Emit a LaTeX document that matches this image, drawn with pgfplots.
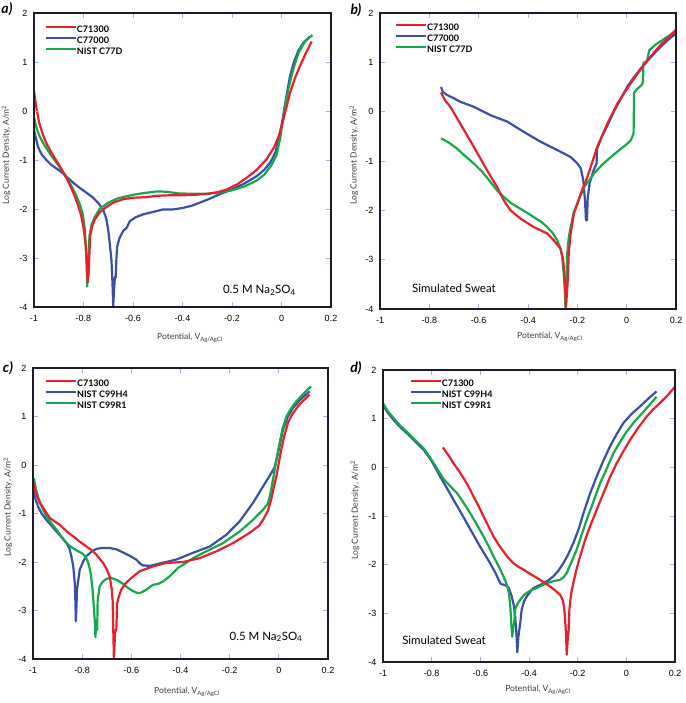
\documentclass[border=0pt]{standalone}
\usepackage{fontspec}
\setmainfont{Liberation Sans}
\newfontfamily\lato{Lato}
\usepackage{pgfplots}
\pgfplotsset{compat=1.18}
\definecolor{cred}{RGB}{232,32,42}
\definecolor{cblue}{RGB}{58,80,168}
\definecolor{cgreen}{RGB}{20,169,75}
\definecolor{frame}{RGB}{28,28,40}
\definecolor{tickc}{RGB}{165,178,225}
\definecolor{labc}{RGB}{60,60,60}
\pgfplotsset{
 panel/.style={
  scale only axis, axis on top,
  xmin=-1,xmax=0.2,ymin=-4,ymax=2,
  xtick={-1,-0.8,-0.6,-0.4,-0.2,0,0.2},
  xticklabels={-1,-0.8,-0.6,-0.4,-0.2,0,0.2},
  ytick={-4,-3,-2,-1,0,1,2},
  yticklabels={-4,-3,-2,-1,0,1,2},
  tick align=inside, major tick length=5pt,
  tick style={tickc, line width=0.9pt},
  axis line style={frame, line width=2.6pt, line cap=rect},
  ticklabel style={font=\fontsize{9}{10}\selectfont, text=black},
  xticklabel style={yshift=-5pt},
  yticklabel style={xshift=-3pt},
  label style={font=\lato\fontsize{8.5}{9}\selectfont, text=labc},
  xlabel={Potential, V\textsubscript{Ag/AgCl}},
  ylabel={Log Current Density, A/m\textsuperscript{2}},
  legend style={draw=none, fill=none, inner sep=0pt, outer sep=0pt, row sep=2pt,
    font=\lato\bfseries\fontsize{9}{9}\selectfont,
    nodes={inner sep=0pt, text height=7pt, text depth=2pt},
    anchor=north west,
    /tikz/every even column/.append style={column sep=5pt}},
  legend cell align=left,
  legend image code/.code={\draw[##1, line width=2pt] (0pt,3pt) -- (30pt,3pt);},
  every axis plot/.append style={line width=2.2pt, line join=round},
 },
}
\tikzset{ann/.style={font=\lato\fontsize{11.5}{12}\selectfont, text=black},
  plab/.style={font=\lato\bfseries\itshape\fontsize{14}{14}\selectfont}}
\begin{document}
\begin{tikzpicture}
\path[use as bounding box] (0,0) rectangle (685pt,703pt);
\node[plab] at (7pt,694pt) {a)};
\node[plab] at (356pt,693pt) {b)};
\node[plab] at (8pt,335pt) {c)};
\node[plab] at (356pt,335pt) {d)};

% ---------------- a ----------------
\begin{axis}[panel, at={(34pt,396pt)}, anchor=south west, width=297pt, height=294pt,
  xlabel style={at={(axis description cs:0.525,-0.105)}, anchor=center},
  ylabel style={at={(axis description cs:-0.094,0.517)}, anchor=center},
  legend style={at={(axis description cs:0.037,0.956)}}]
\addlegendimage{cred}\addlegendentry{C71300}
\addlegendimage{cblue}\addlegendentry{C77000}
\addlegendimage{cgreen}\addlegendentry{NIST C77D}
\addplot[cblue, forget plot] coordinates {(-1,-0.39) (-0.99,-0.6) (-0.984,-0.73) (-0.97,-0.88) (-0.95,-1.0) (-0.93,-1.1) (-0.91,-1.17) (-0.888,-1.25) (-0.869,-1.34) (-0.84,-1.47) (-0.815,-1.57) (-0.79,-1.66) (-0.761,-1.77) (-0.74,-1.88) (-0.72,-2.02) (-0.708,-2.2) (-0.7,-2.43) (-0.693,-2.75) (-0.687,-3.05) (-0.683,-3.5) (-0.68,-3.98) (-0.676,-3.6) (-0.673,-3.39) (-0.67,-3.4) (-0.667,-3.0) (-0.664,-2.77) (-0.655,-2.6) (-0.64,-2.45) (-0.625,-2.38) (-0.613,-2.25) (-0.59,-2.17) (-0.56,-2.11) (-0.518,-2.06) (-0.48,-2.01) (-0.44,-2.01) (-0.4,-1.98) (-0.36,-1.93) (-0.33,-1.87) (-0.29,-1.79) (-0.26,-1.72) (-0.2,-1.6) (-0.15,-1.48) (-0.1,-1.33) (-0.07,-1.2) (-0.045,-1.05) (-0.025,-0.85) (-0.01,-0.55) (0.0,-0.3) (0.01,0.0) (0.02,0.3) (0.034,0.7) (0.05,1.0) (0.068,1.23) (0.09,1.4) (0.115,1.52)};
\addplot[cgreen, forget plot] coordinates {(-1,-0.12) (-0.99,-0.35) (-0.977,-0.52) (-0.96,-0.68) (-0.937,-0.86) (-0.91,-1.05) (-0.888,-1.2) (-0.87,-1.34) (-0.85,-1.52) (-0.83,-1.72) (-0.815,-1.9) (-0.803,-2.1) (-0.795,-2.4) (-0.79,-2.8) (-0.787,-3.2) (-0.785,-3.58) (-0.782,-3.3) (-0.778,-2.9) (-0.776,-2.55) (-0.768,-2.33) (-0.755,-2.17) (-0.735,-2.0) (-0.7,-1.87) (-0.66,-1.78) (-0.6,-1.71) (-0.55,-1.67) (-0.5,-1.64) (-0.46,-1.65) (-0.42,-1.68) (-0.36,-1.69) (-0.3,-1.69) (-0.25,-1.66) (-0.2,-1.62) (-0.15,-1.54) (-0.1,-1.42) (-0.07,-1.3) (-0.04,-1.1) (-0.02,-0.9) (-0.005,-0.55) (0.005,-0.2) (0.015,0.1) (0.03,0.5) (0.05,0.9) (0.07,1.2) (0.095,1.42) (0.125,1.55)};
\addplot[cred, forget plot] coordinates {(-1,0.40) (-0.99,0.05) (-0.98,-0.22) (-0.965,-0.47) (-0.95,-0.66) (-0.925,-0.89) (-0.9,-1.09) (-0.888,-1.2) (-0.87,-1.36) (-0.856,-1.5) (-0.84,-1.68) (-0.825,-1.88) (-0.81,-2.12) (-0.8,-2.38) (-0.793,-2.65) (-0.788,-2.95) (-0.785,-3.3) (-0.783,-3.5) (-0.779,-3.3) (-0.776,-2.9) (-0.773,-2.55) (-0.765,-2.35) (-0.755,-2.22) (-0.735,-2.07) (-0.71,-1.97) (-0.68,-1.87) (-0.64,-1.8) (-0.6,-1.77) (-0.55,-1.76) (-0.5,-1.73) (-0.45,-1.72) (-0.4,-1.72) (-0.35,-1.71) (-0.3,-1.69) (-0.26,-1.66) (-0.22,-1.6) (-0.18,-1.5) (-0.14,-1.36) (-0.1,-1.2) (-0.06,-0.98) (-0.03,-0.74) (-0.01,-0.5) (0.005,-0.22) (0.02,0.08) (0.035,0.38) (0.055,0.68) (0.075,0.92) (0.1,1.2) (0.122,1.42)};
\node[ann] at (axis description cs:0.759,0.058) {0.5 M Na\textsubscript{2}SO\textsubscript{4}};
\end{axis}

% ---------------- b ----------------
\begin{axis}[panel, at={(380pt,394pt)}, anchor=south west, width=296pt, height=296pt,
  xlabel style={at={(axis description cs:0.574,-0.095)}, anchor=center},
  ylabel style={at={(axis description cs:-0.088,0.52)}, anchor=center},
  legend style={at={(axis description cs:0.051,0.966)}}]
\addlegendimage{cred}\addlegendentry{C71300}
\addlegendimage{cblue}\addlegendentry{C77000}
\addlegendimage{cgreen}\addlegendentry{NIST C77D}
\addplot[cblue, forget plot] coordinates {(-0.753,0.5) (-0.745,0.4) (-0.729,0.34) (-0.7,0.27) (-0.675,0.2) (-0.62,0.1) (-0.553,-0.07) (-0.485,-0.2) (-0.417,-0.41) (-0.349,-0.61) (-0.281,-0.78) (-0.227,-0.92) (-0.2,-1.05) (-0.186,-1.15) (-0.176,-1.39) (-0.169,-1.8) (-0.165,-2.2) (-0.161,-2.2) (-0.158,-1.75) (-0.15,-1.45) (-0.135,-1.2) (-0.122,-1.05) (-0.12,-0.75) (-0.1,-0.5) (-0.08,-0.3) (-0.05,0.02) (-0.02,0.3) (0.003,0.51) (0.03,0.7) (0.058,0.88) (0.09,1.06) (0.125,1.25) (0.16,1.42) (0.2,1.59)};
\addplot[cgreen, forget plot] coordinates {(-0.753,-0.54) (-0.72,-0.63) (-0.688,-0.75) (-0.65,-0.92) (-0.62,-1.05) (-0.585,-1.22) (-0.553,-1.42) (-0.525,-1.6) (-0.498,-1.73) (-0.47,-1.85) (-0.444,-1.93) (-0.41,-2.03) (-0.376,-2.14) (-0.345,-2.24) (-0.322,-2.34) (-0.3,-2.46) (-0.281,-2.61) (-0.268,-2.78) (-0.261,-2.95) (-0.255,-3.3) (-0.251,-3.6) (-0.248,-3.98) (-0.244,-3.3) (-0.241,-2.88) (-0.235,-2.55) (-0.227,-2.34) (-0.215,-2.05) (-0.2,-1.86) (-0.173,-1.53) (-0.15,-1.38) (-0.132,-1.25) (-0.1,-1.08) (-0.078,-0.98) (-0.05,-0.86) (-0.023,-0.75) (0.0,-0.66) (0.017,-0.58) (0.028,-0.44) (0.03,0.38) (0.04,0.45) (0.061,0.54) (0.066,0.6) (0.068,0.99) (0.082,1.02) (0.092,1.25) (0.12,1.37) (0.16,1.5) (0.2,1.63)};
\addplot[cred, forget plot] coordinates {(-0.753,0.39) (-0.735,0.22) (-0.715,0.1) (-0.695,-0.07) (-0.675,-0.24) (-0.62,-0.71) (-0.566,-1.19) (-0.525,-1.53) (-0.498,-1.8) (-0.471,-2.0) (-0.43,-2.17) (-0.376,-2.34) (-0.322,-2.47) (-0.295,-2.61) (-0.268,-2.78) (-0.257,-3.02) (-0.25,-3.49) (-0.246,-3.98) (-0.238,-3.36) (-0.235,-2.88) (-0.227,-2.47) (-0.214,-2.07) (-0.186,-1.66) (-0.159,-1.32) (-0.119,-0.71) (-0.078,-0.24) (-0.037,0.17) (0.017,0.58) (0.085,1.05) (0.139,1.36) (0.2,1.66)};
\node[ann] at (axis description cs:0.25,0.071) {Simulated Sweat};
\end{axis}

% ---------------- c ----------------
\begin{axis}[panel, at={(33pt,44pt)}, anchor=south west, width=295pt, height=291pt,
  xlabel style={at={(axis description cs:0.522,-0.113)}, anchor=center},
  ylabel style={at={(axis description cs:-0.085,0.522)}, anchor=center},
  legend style={at={(axis description cs:0.041,0.962)}}]
\addlegendimage{cred}\addlegendentry{C71300}
\addlegendimage{cblue}\addlegendentry{NIST C99H4}
\addlegendimage{cgreen}\addlegendentry{NIST C99R1}
\addplot[cblue, forget plot] coordinates {(-1,-0.51) (-0.99,-0.7) (-0.98,-0.85) (-0.965,-1.0) (-0.946,-1.13) (-0.925,-1.25) (-0.905,-1.37) (-0.885,-1.48) (-0.864,-1.61) (-0.852,-1.72) (-0.844,-1.88) (-0.836,-2.1) (-0.83,-2.43) (-0.827,-2.9) (-0.826,-3.22) (-0.823,-2.9) (-0.821,-2.57) (-0.81,-2.16) (-0.795,-1.98) (-0.783,-1.88) (-0.76,-1.78) (-0.742,-1.73) (-0.72,-1.71) (-0.69,-1.71) (-0.66,-1.74) (-0.635,-1.8) (-0.607,-1.87) (-0.58,-1.95) (-0.565,-2.03) (-0.553,-2.07) (-0.525,-2.08) (-0.485,-2.03) (-0.45,-1.99) (-0.417,-1.95) (-0.349,-1.81) (-0.281,-1.68) (-0.214,-1.44) (-0.159,-1.16) (-0.105,-0.78) (-0.064,-0.44) (-0.037,-0.22) (-0.017,-0.05) (-0.003,0.25) (0.017,0.73) (0.035,0.98) (0.058,1.18) (0.09,1.36) (0.125,1.52)};
\addplot[cgreen, forget plot] coordinates {(-0.996,-0.27) (-0.99,-0.45) (-0.98,-0.65) (-0.965,-0.85) (-0.946,-1.06) (-0.925,-1.2) (-0.905,-1.33) (-0.885,-1.47) (-0.864,-1.61) (-0.845,-1.69) (-0.824,-1.76) (-0.8,-1.82) (-0.785,-1.9) (-0.773,-2.05) (-0.765,-2.25) (-0.758,-2.55) (-0.753,-2.9) (-0.749,-3.19) (-0.746,-3.55) (-0.742,-3.2) (-0.739,-3.4) (-0.737,-2.8) (-0.729,-2.5) (-0.715,-2.4) (-0.702,-2.35) (-0.688,-2.33) (-0.675,-2.34) (-0.655,-2.38) (-0.634,-2.45) (-0.612,-2.54) (-0.593,-2.6) (-0.575,-2.64) (-0.56,-2.63) (-0.539,-2.57) (-0.512,-2.47) (-0.49,-2.45) (-0.471,-2.4) (-0.45,-2.32) (-0.431,-2.23) (-0.41,-2.12) (-0.39,-2.06) (-0.349,-1.92) (-0.295,-1.78) (-0.227,-1.61) (-0.159,-1.37) (-0.105,-1.13) (-0.064,-0.92) (-0.045,-0.8) (-0.037,-0.65) (-0.027,-0.4) (-0.017,-0.1) (-0.005,0.25) (0.003,0.45) (0.015,0.75) (0.031,1.0) (0.05,1.17) (0.071,1.31) (0.1,1.47) (0.13,1.62)};
\addplot[cred, forget plot] coordinates {(-1,-0.34) (-0.99,-0.55) (-0.973,-0.78) (-0.95,-0.95) (-0.932,-1.09) (-0.91,-1.17) (-0.892,-1.23) (-0.86,-1.38) (-0.837,-1.47) (-0.81,-1.58) (-0.783,-1.68) (-0.76,-1.76) (-0.742,-1.85) (-0.715,-2.02) (-0.7,-2.15) (-0.688,-2.3) (-0.68,-2.55) (-0.676,-2.8) (-0.673,-3.5) (-0.671,-3.98) (-0.666,-3.45) (-0.661,-3.38) (-0.658,-2.85) (-0.65,-2.7) (-0.641,-2.57) (-0.625,-2.45) (-0.607,-2.36) (-0.566,-2.19) (-0.512,-2.09) (-0.458,-2.02) (-0.39,-2.0) (-0.322,-1.92) (-0.254,-1.78) (-0.186,-1.61) (-0.119,-1.4) (-0.08,-1.25) (-0.064,-1.13) (-0.045,-0.95) (-0.031,-0.71) (-0.02,-0.45) (-0.01,-0.23) (0.0,0.05) (0.01,0.32) (0.022,0.6) (0.037,0.87) (0.055,1.05) (0.078,1.21) (0.1,1.33) (0.125,1.45)};
\node[ann] at (axis description cs:0.79,0.076) {0.5 M Na\textsubscript{2}SO\textsubscript{4}};
\end{axis}

% ---------------- d ----------------
\begin{axis}[panel, at={(383pt,41pt)}, anchor=south west, width=292pt, height=292pt,
  xlabel style={at={(axis description cs:0.531,-0.096)}, anchor=center},
  ylabel style={at={(axis description cs:-0.096,0.52)}, anchor=center},
  legend style={at={(axis description cs:0.092,0.969)}}]
\addlegendimage{cred}\addlegendentry{C71300}
\addlegendimage{cblue}\addlegendentry{NIST C99H4}
\addlegendimage{cgreen}\addlegendentry{NIST C99R1}
\addplot[cblue, forget plot] coordinates {(-1,1.28) (-0.98,1.12) (-0.956,0.97) (-0.93,0.83) (-0.902,0.7) (-0.87,0.54) (-0.833,0.36) (-0.8,0.13) (-0.765,-0.19) (-0.737,-0.43) (-0.71,-0.67) (-0.682,-0.91) (-0.655,-1.15) (-0.628,-1.39) (-0.601,-1.63) (-0.58,-1.8) (-0.56,-1.97) (-0.54,-2.15) (-0.525,-2.31) (-0.515,-2.4) (-0.505,-2.41) (-0.495,-2.43) (-0.484,-2.47) (-0.471,-2.65) (-0.462,-2.85) (-0.457,-3.06) (-0.452,-3.4) (-0.448,-3.8) (-0.444,-3.5) (-0.44,-3.34) (-0.436,-3.2) (-0.43,-2.92) (-0.42,-2.75) (-0.409,-2.65) (-0.395,-2.56) (-0.382,-2.48) (-0.36,-2.43) (-0.341,-2.38) (-0.32,-2.32) (-0.3,-2.24) (-0.28,-2.13) (-0.259,-1.97) (-0.24,-1.8) (-0.218,-1.56) (-0.196,-1.27) (-0.176,-0.94) (-0.15,-0.55) (-0.122,-0.19) (-0.095,0.13) (-0.067,0.43) (-0.04,0.68) (-0.012,0.91) (0.02,1.09) (0.056,1.25) (0.09,1.41) (0.124,1.56)};
\addplot[cgreen, forget plot] coordinates {(-1,1.32) (-0.98,1.15) (-0.956,1.01) (-0.93,0.86) (-0.902,0.73) (-0.87,0.57) (-0.833,0.39) (-0.8,0.15) (-0.775,-0.05) (-0.751,-0.24) (-0.725,-0.38) (-0.696,-0.53) (-0.67,-0.72) (-0.642,-0.94) (-0.615,-1.17) (-0.587,-1.42) (-0.566,-1.62) (-0.546,-1.83) (-0.525,-2.03) (-0.505,-2.24) (-0.49,-2.42) (-0.482,-2.6) (-0.477,-2.85) (-0.473,-3.2) (-0.469,-3.48) (-0.465,-3.3) (-0.461,-3.2) (-0.457,-2.92) (-0.447,-2.8) (-0.436,-2.72) (-0.42,-2.62) (-0.409,-2.58) (-0.39,-2.52) (-0.368,-2.48) (-0.345,-2.42) (-0.327,-2.38) (-0.3,-2.34) (-0.272,-2.31) (-0.258,-2.26) (-0.245,-2.17) (-0.225,-1.94) (-0.204,-1.69) (-0.185,-1.4) (-0.163,-1.08) (-0.135,-0.7) (-0.108,-0.33) (-0.08,-0.02) (-0.053,0.29) (-0.025,0.53) (0.001,0.73) (0.035,0.95) (0.07,1.14) (0.1,1.31) (0.124,1.45)};
\addplot[cred, forget plot] coordinates {(-0.754,0.41) (-0.73,0.24) (-0.71,0.08) (-0.69,-0.06) (-0.669,-0.22) (-0.648,-0.4) (-0.628,-0.6) (-0.607,-0.8) (-0.587,-1.01) (-0.566,-1.22) (-0.546,-1.42) (-0.525,-1.59) (-0.505,-1.73) (-0.485,-1.86) (-0.464,-1.97) (-0.445,-2.04) (-0.423,-2.1) (-0.395,-2.19) (-0.368,-2.27) (-0.34,-2.36) (-0.313,-2.45) (-0.29,-2.54) (-0.272,-2.62) (-0.262,-2.72) (-0.256,-2.86) (-0.252,-3.1) (-0.248,-3.4) (-0.245,-3.85) (-0.241,-3.55) (-0.237,-3.34) (-0.234,-2.92) (-0.227,-2.6) (-0.218,-2.38) (-0.205,-2.1) (-0.19,-1.83) (-0.17,-1.5) (-0.149,-1.21) (-0.12,-0.85) (-0.094,-0.53) (-0.067,-0.2) (-0.04,0.08) (-0.01,0.35) (0.015,0.56) (0.05,0.82) (0.083,1.04) (0.11,1.19) (0.138,1.32) (0.17,1.48) (0.2,1.66)};
\node[ann] at (axis description cs:0.209,0.075) {Simulated Sweat};
\end{axis}
\end{tikzpicture}
\end{document}
